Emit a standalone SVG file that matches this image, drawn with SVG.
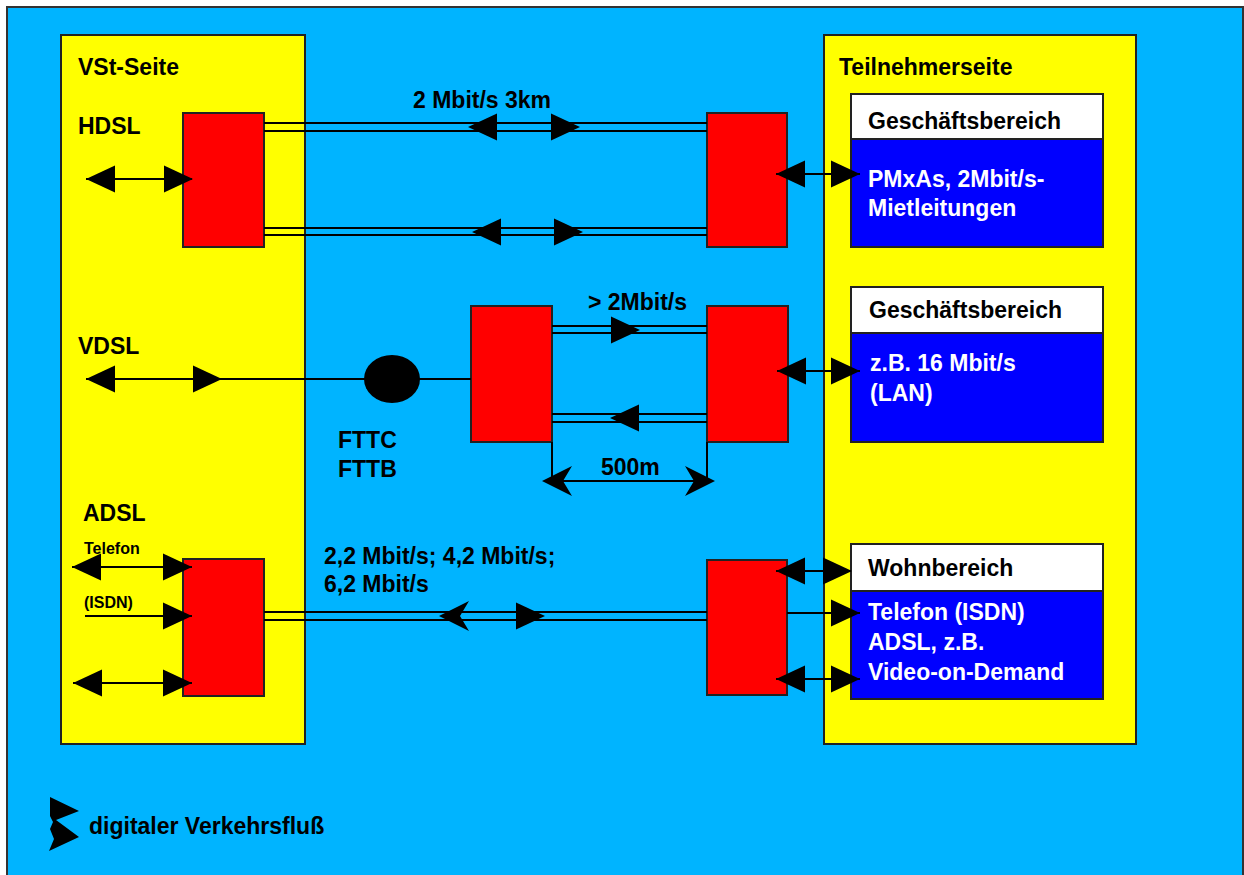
<svg xmlns="http://www.w3.org/2000/svg" xmlns:xlink="http://www.w3.org/1999/xlink" width="1244" height="875" viewBox="0 0 1244 875">
<style>
.bg{fill:#00B4FF;stroke:#333;stroke-width:2}
.panel{fill:#FFFF00;stroke:#222;stroke-width:2}
.unit{fill:#FF0000;stroke:#222;stroke-width:2}
.hdr{fill:#FFFFFF;stroke:#222;stroke-width:2}
.body{fill:#0000FF;stroke:#222;stroke-width:2}
.ln{stroke:#000;stroke-width:2;fill:none}
.t{font-family:"Liberation Sans",Arial,sans-serif;font-weight:bold;font-size:23px;fill:#000}
.w{fill:#FFFFFF}
.s{font-size:16px}
</style>
<defs>
<path id="ah" d="M0,0 L-29,-13.5 L-29,13.5 Z" fill="#000"/>
<path id="bh" d="M0,0 L-30,-15 L-21,0 L-30,15 Z" fill="#000"/>
</defs>
<rect x="0" y="0" width="1244" height="875" fill="#FFFFFF"/>
<rect class="bg" x="7" y="7" width="1236" height="880"/>

<g id="vst-seite">
<rect class="panel" x="61" y="35" width="244" height="709"/>
<text class="t" x="78" y="75">VSt-Seite</text>
<text class="t" x="78" y="134">HDSL</text>
<text class="t" x="78" y="354">VDSL</text>
<text class="t" x="83" y="521">ADSL</text>
<text class="t s" x="84" y="554">Telefon</text>
<text class="t s" x="84" y="608">(ISDN)</text>
</g>

<g id="teilnehmerseite">
<rect class="panel" x="824" y="35" width="312" height="709"/>
<text class="t" x="839" y="75">Teilnehmerseite</text>
</g>

<g id="hdsl-vst"><rect class="unit" x="183" y="113" width="81" height="134"/></g>
<g id="hdsl-tln"><rect class="unit" x="707" y="113" width="80" height="134"/></g>
<g id="vdsl-fttc"><rect class="unit" x="471" y="306" width="81" height="136"/></g>
<g id="vdsl-tln"><rect class="unit" x="707" y="306" width="81" height="136"/></g>
<g id="adsl-vst"><rect class="unit" x="183" y="559" width="81" height="137"/></g>
<g id="adsl-tln"><rect class="unit" x="707" y="560" width="80" height="135"/></g>

<g id="geschaeft1">
<rect class="body" x="851" y="139" width="252" height="108"/>
<rect class="hdr" x="851" y="94" width="252" height="45"/>
<text class="t" x="868" y="129">Geschäftsbereich</text>
<text class="t w" x="868" y="187">PMxAs, 2Mbit/s-</text>
<text class="t w" x="868" y="216">Mietleitungen</text>
</g>

<g id="geschaeft2">
<rect class="body" x="851" y="333" width="252" height="109"/>
<rect class="hdr" x="851" y="287" width="252" height="46"/>
<text class="t" x="869" y="318">Geschäftsbereich</text>
<text class="t w" x="870" y="371">z.B. 16 Mbit/s</text>
<text class="t w" x="870" y="401">(LAN)</text>
</g>

<g id="wohnbereich">
<rect class="body" x="851" y="591" width="252" height="108"/>
<rect class="hdr" x="851" y="544" width="252" height="47"/>
<text class="t" x="868" y="576">Wohnbereich</text>
<text class="t w" x="868" y="620">Telefon (ISDN)</text>
<text class="t w" x="868" y="650">ADSL, z.B.</text>
<text class="t w" x="868" y="680">Video-on-Demand</text>
</g>

<g id="fttc-node">
<ellipse cx="392" cy="379" rx="28" ry="24" fill="#000"/>
<text class="t" x="338" y="448">FTTC</text>
<text class="t" x="338" y="477">FTTB</text>
</g>

<g id="connectors">
<!-- HDSL -->
<line class="ln" x1="86" y1="179" x2="192" y2="179"/>
<use href="#ah" transform="translate(86,179) rotate(180)"/>
<use href="#ah" transform="translate(193,179)"/>
<line class="ln" x1="264" y1="123" x2="707" y2="123"/>
<line class="ln" x1="264" y1="131" x2="707" y2="131"/>
<line class="ln" x1="264" y1="228" x2="707" y2="228"/>
<line class="ln" x1="264" y1="235" x2="707" y2="235"/>
<use href="#ah" transform="translate(468,127) rotate(180)"/>
<use href="#ah" transform="translate(580,127)"/>
<use href="#ah" transform="translate(472,232) rotate(180)"/>
<use href="#ah" transform="translate(583,232)"/>
<line class="ln" x1="776" y1="174" x2="860" y2="174"/>
<use href="#ah" transform="translate(776,174) rotate(180)"/>
<use href="#ah" transform="translate(860,174)"/>
<text class="t" x="413" y="108">2 Mbit/s 3km</text>

<!-- VDSL -->
<line class="ln" x1="86" y1="379" x2="471" y2="379"/>
<use href="#ah" transform="translate(86,379) rotate(180)"/>
<use href="#ah" transform="translate(222,379)"/>
<line class="ln" x1="552" y1="326" x2="707" y2="326"/>
<line class="ln" x1="552" y1="333" x2="707" y2="333"/>
<line class="ln" x1="552" y1="414" x2="707" y2="414"/>
<line class="ln" x1="552" y1="422" x2="707" y2="422"/>
<use href="#ah" transform="translate(640,330)"/>
<use href="#ah" transform="translate(610,418) rotate(180)"/>
<text class="t" x="588" y="310">&gt; 2Mbit/s</text>
<line class="ln" x1="552" y1="442" x2="552" y2="481"/>
<line class="ln" x1="707" y1="442" x2="707" y2="481"/>
<line class="ln" x1="545" y1="481" x2="712" y2="481"/>
<use href="#bh" transform="translate(542,481) rotate(180)"/>
<use href="#bh" transform="translate(715,481)"/>
<text class="t" x="601" y="475">500m</text>
<line class="ln" x1="777" y1="371" x2="860" y2="371"/>
<use href="#ah" transform="translate(777,371) rotate(180)"/>
<use href="#ah" transform="translate(860,371)"/>

<!-- ADSL -->
<line class="ln" x1="72" y1="567" x2="192" y2="567"/>
<use href="#ah" transform="translate(72,567) rotate(180)"/>
<use href="#ah" transform="translate(192,567)"/>
<line class="ln" x1="85" y1="616" x2="192" y2="616"/>
<use href="#ah" transform="translate(192,616)"/>
<line class="ln" x1="73" y1="683" x2="192" y2="683"/>
<use href="#ah" transform="translate(73,683) rotate(180)"/>
<use href="#ah" transform="translate(192,683)"/>
<line class="ln" x1="264" y1="612" x2="707" y2="612"/>
<line class="ln" x1="264" y1="620" x2="707" y2="620"/>
<use href="#bh" transform="translate(439,616) rotate(180)"/>
<use href="#ah" transform="translate(545,616)"/>
<text class="t" x="324" y="564">2,2 Mbit/s; 4,2 Mbit/s;</text>
<text class="t" x="324" y="592">6,2 Mbit/s</text>
<line class="ln" x1="776" y1="571" x2="851" y2="571"/>
<use href="#ah" transform="translate(776,571) rotate(180)"/>
<use href="#ah" transform="translate(852,571)"/>
<line class="ln" x1="787" y1="613" x2="860" y2="613"/>
<use href="#ah" transform="translate(860,613)"/>
<line class="ln" x1="776" y1="679" x2="860" y2="679"/>
<use href="#ah" transform="translate(776,679) rotate(180)"/>
<use href="#ah" transform="translate(860,679)"/>
</g>

<g id="legend">
<path d="M50,797 L79,811 L56,820 L79,837 L49,851 L54,839 L50,829 L53,822 L50,816 Z" fill="#000"/>
<text class="t" x="89" y="834">digitaler Verkehrsfluß</text>
</g>
</svg>
